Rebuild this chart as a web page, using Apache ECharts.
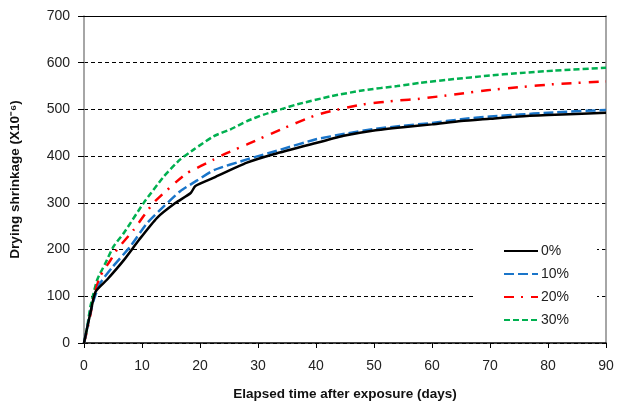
<!DOCTYPE html>
<html lang="en">

<head>
  <meta charset="UTF-8">
  <title>drying shrinkage</title>
  <script src="https://cdn.jsdelivr.net/npm/echarts@6/dist/echarts.min.js"></script>
  <style>
    * {
      padding: 0;
      margin: 0;
    }

    #box {
      width: 626px;
      height: 406px;
      background: #fff;
    }
  </style>
</head>

<body>
  <div id="box"></div>
  <script>
    // values: days and shrinkage (x10^-6)
    var seriesNames = ['0%', '10%', '20%', '30%']

    var days0 = [0, 0.5, 1.1, 2, 4, 6.9, 9.5, 12.6, 15.8, 18.4, 19.2, 22.4, 28.1, 32.7, 40, 45, 50, 55, 60, 65, 70, 75, 80, 90]
    var vals0 = [0, 30, 64, 110, 136, 178, 221, 268, 300, 321, 336, 354, 386, 404, 428, 444, 455, 462, 468, 475, 480, 485, 488, 493]

    var days10 = [0, 0.5, 1.1, 1.7, 2.8, 4.8, 8, 10.9, 13.8, 16.6, 19.5, 22.4, 28.1, 33.9, 40, 45, 50, 55, 60, 65, 70, 75, 80, 90]
    var vals10 = [0, 30, 65, 93, 128, 161, 207, 257, 293, 325, 348, 370, 393, 414, 436, 448, 458, 465, 471, 479, 485, 489, 493, 499]

    var days20 = [0, 0.5, 1.1, 1.7, 2.8, 4.5, 5.7, 8.6, 12, 16, 17.8, 20, 22.4, 24.7, 28.1, 33.9, 39.6, 42.5, 48.2, 54, 58, 63.8, 69.5, 75.3, 81, 90]
    var vals20 = [0, 25, 60, 100, 143, 176, 200, 243, 300, 346, 364, 378, 393, 407, 425, 457, 486, 496, 511, 519, 523, 532, 541, 548, 554, 560]

    var days30 = [0, 0.5, 1.1, 2.3, 3.7, 5.1, 6.9, 10.3, 13.8, 16.6, 18.9, 22.4, 25.2, 28.1, 31, 33.9, 36.8, 42.5, 48.2, 54, 58, 63.8, 69.5, 75.3, 81, 90]
    var vals30 = [0, 30, 78, 136, 171, 207, 236, 300, 357, 393, 414, 443, 457, 475, 489, 500, 511, 528, 541, 550, 557, 565, 572, 578, 583, 589]

    var xTicks = [0, 10, 20, 30, 40, 50, 60, 70, 80, 90]
    var yTicks = [0, 100, 200, 300, 400, 500, 600, 700]

    function pairs(d, v) {
      var out = []
      for (let i = 0; i < d.length; i++) {
        out.push([d[i], v[i]])
      }
      return out
    }

    var colors = ['#000000', '#1a75c9', '#ff0000', '#00b050']
    var dashes = ['solid', [10, 4], [10, 7, 2, 8], [6, 3]]
    var allData = [pairs(days0, vals0), pairs(days10, vals10), pairs(days20, vals20), pairs(days30, vals30)]

    var series = []
    for (let i = 0; i < seriesNames.length; i++) {
      series.push({
        name: seriesNames[i],
        type: 'line',
        symbol: 'none',
        smooth: 0.2,
        data: allData[i],
        lineStyle: { color: colors[i], width: 2.5, type: dashes[i] },
        itemStyle: { color: colors[i] },
        z: 10 - i
      })
    }

    var font = 'Liberation Sans, Arial, sans-serif'

    var mCharts = echarts.init(document.getElementById('box'))
    var option = {
      animation: false,
      backgroundColor: '#fff',
      grid: { left: 84, right: 20, top: 16, bottom: 63, containLabel: false, outerBoundsMode: 'none' },
      legend: {
        orient: 'vertical',
        left: 475,
        top: 234,
        padding: [10, 28, 6, 28],
        backgroundColor: '#fff',
        itemWidth: 34,
        itemHeight: 6,
        itemGap: 9,
        itemStyle: { opacity: 0 },
        textStyle: { fontFamily: font, fontSize: 14, color: '#222', padding: [0, 0, 0, -2] },
        data: seriesNames
      },
      xAxis: [{
        type: 'value',
        min: 0,
        max: 90,
        interval: 10,
        name: 'Elapsed time after exposure (days)',
        nameLocation: 'middle',
        nameGap: 44,
        nameTextStyle: { fontFamily: font, fontSize: 13.5, fontWeight: 'bold', color: '#111' },
        axisLine: { lineStyle: { color: '#000', width: 1.5 } },
        axisTick: { show: true, inside: false, length: 5, lineStyle: { color: '#000' } },
        axisLabel: {
          margin: 16, fontFamily: font, fontSize: 14, color: '#222',
          formatter: function (v) { return xTicks.indexOf(v) >= 0 ? v : '' }
        },
        splitLine: { show: false }
      }, {
        type: 'value',
        position: 'top',
        min: 0,
        max: 90,
        axisLine: { show: true, onZero: false, lineStyle: { color: '#000', width: 1.2 } },
        axisTick: { show: false },
        axisLabel: { show: false },
        splitLine: { show: false }
      }],
      yAxis: [{
        type: 'value',
        min: 0,
        max: 700,
        interval: 100,
        name: 'Drying shrinkage (X10⁻⁶)',
        nameLocation: 'middle',
        nameGap: 62,
        nameTextStyle: { fontFamily: font, fontSize: 13.5, fontWeight: 'bold', color: '#111' },
        axisLine: { show: true, lineStyle: { color: '#888', width: 1.5 } },
        axisTick: { show: true, length: 6, lineStyle: { color: '#000' } },
        axisLabel: {
          margin: 14, fontFamily: font, fontSize: 14, color: '#222',
          formatter: function (v) { return yTicks.indexOf(v) >= 0 ? v : '' }
        },
        splitLine: { show: true, lineStyle: { color: '#000', width: 1, type: [4, 3] } }
      }, {
        type: 'value',
        position: 'right',
        min: 0,
        max: 700,
        axisLine: { show: true, onZero: false, lineStyle: { color: '#888', width: 1.5 } },
        axisTick: { show: false },
        axisLabel: { show: false },
        splitLine: { show: false }
      }],
      series: series
    }
    mCharts.setOption(option)
  </script>
</body>

</html>
